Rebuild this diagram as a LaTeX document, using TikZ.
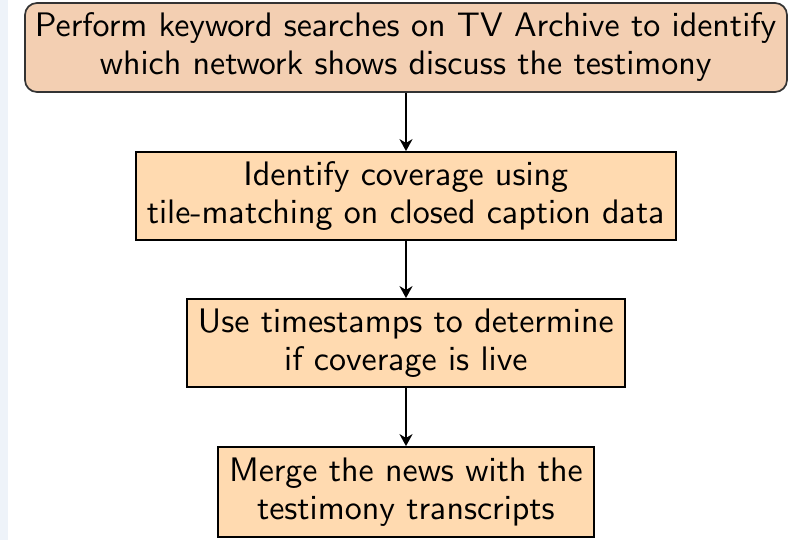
\documentclass[tikz,border=0pt]{standalone}
\usetikzlibrary{arrows.meta}
\definecolor{stripblue}{RGB}{238,243,249}
\definecolor{topfill}{RGB}{243,207,178}
\definecolor{stepfill}{RGB}{255,218,176}
% Computer Modern Sans at its 10pt design, enlarged
\font\boxfont=cmss10 at 17pt
\newcommand\boxtext{\boxfont\baselineskip=19pt\relax}
\tikzset{
  every node/.style={font=\boxtext, align=center, inner sep=0pt},
  topbox/.style={draw=black!80, line width=0.85pt, fill=topfill, rounded corners=6pt,
                 minimum width=381pt, minimum height=44.5pt},
  stepbox/.style={draw=black, line width=0.9pt, fill=stepfill, minimum height=44pt},
  flow/.style={-{Stealth[length=6pt,width=6.5pt]}, line width=1pt}
}
\begin{document}
\begin{tikzpicture}[x=1pt,y=1pt]
  \useasboundingbox (0,0) rectangle (403.5,-270);
  \fill[stripblue] (0,0) rectangle (4,-270);
  \node[topbox] (search) at (203,-23.75)
    {Perform keyword searches on TV Archive to identify\\which network shows discuss the testimony};
  \node[stepbox, minimum width=270pt] (coverage) at (203,-98)
    {Identify coverage using\\tile-matching on closed caption data};
  \node[stepbox, minimum width=219pt] (live) at (203,-171.5)
    {Use timestamps to determine\\if coverage is live};
  \node[stepbox, minimum width=188pt, minimum height=45pt] (merge) at (203,-246)
    {Merge the news with the\\testimony transcripts};
  \draw[flow] (search) -- (coverage);
  \draw[flow] (coverage) -- (live);
  \draw[flow] (live) -- (merge);
\end{tikzpicture}
\end{document}
